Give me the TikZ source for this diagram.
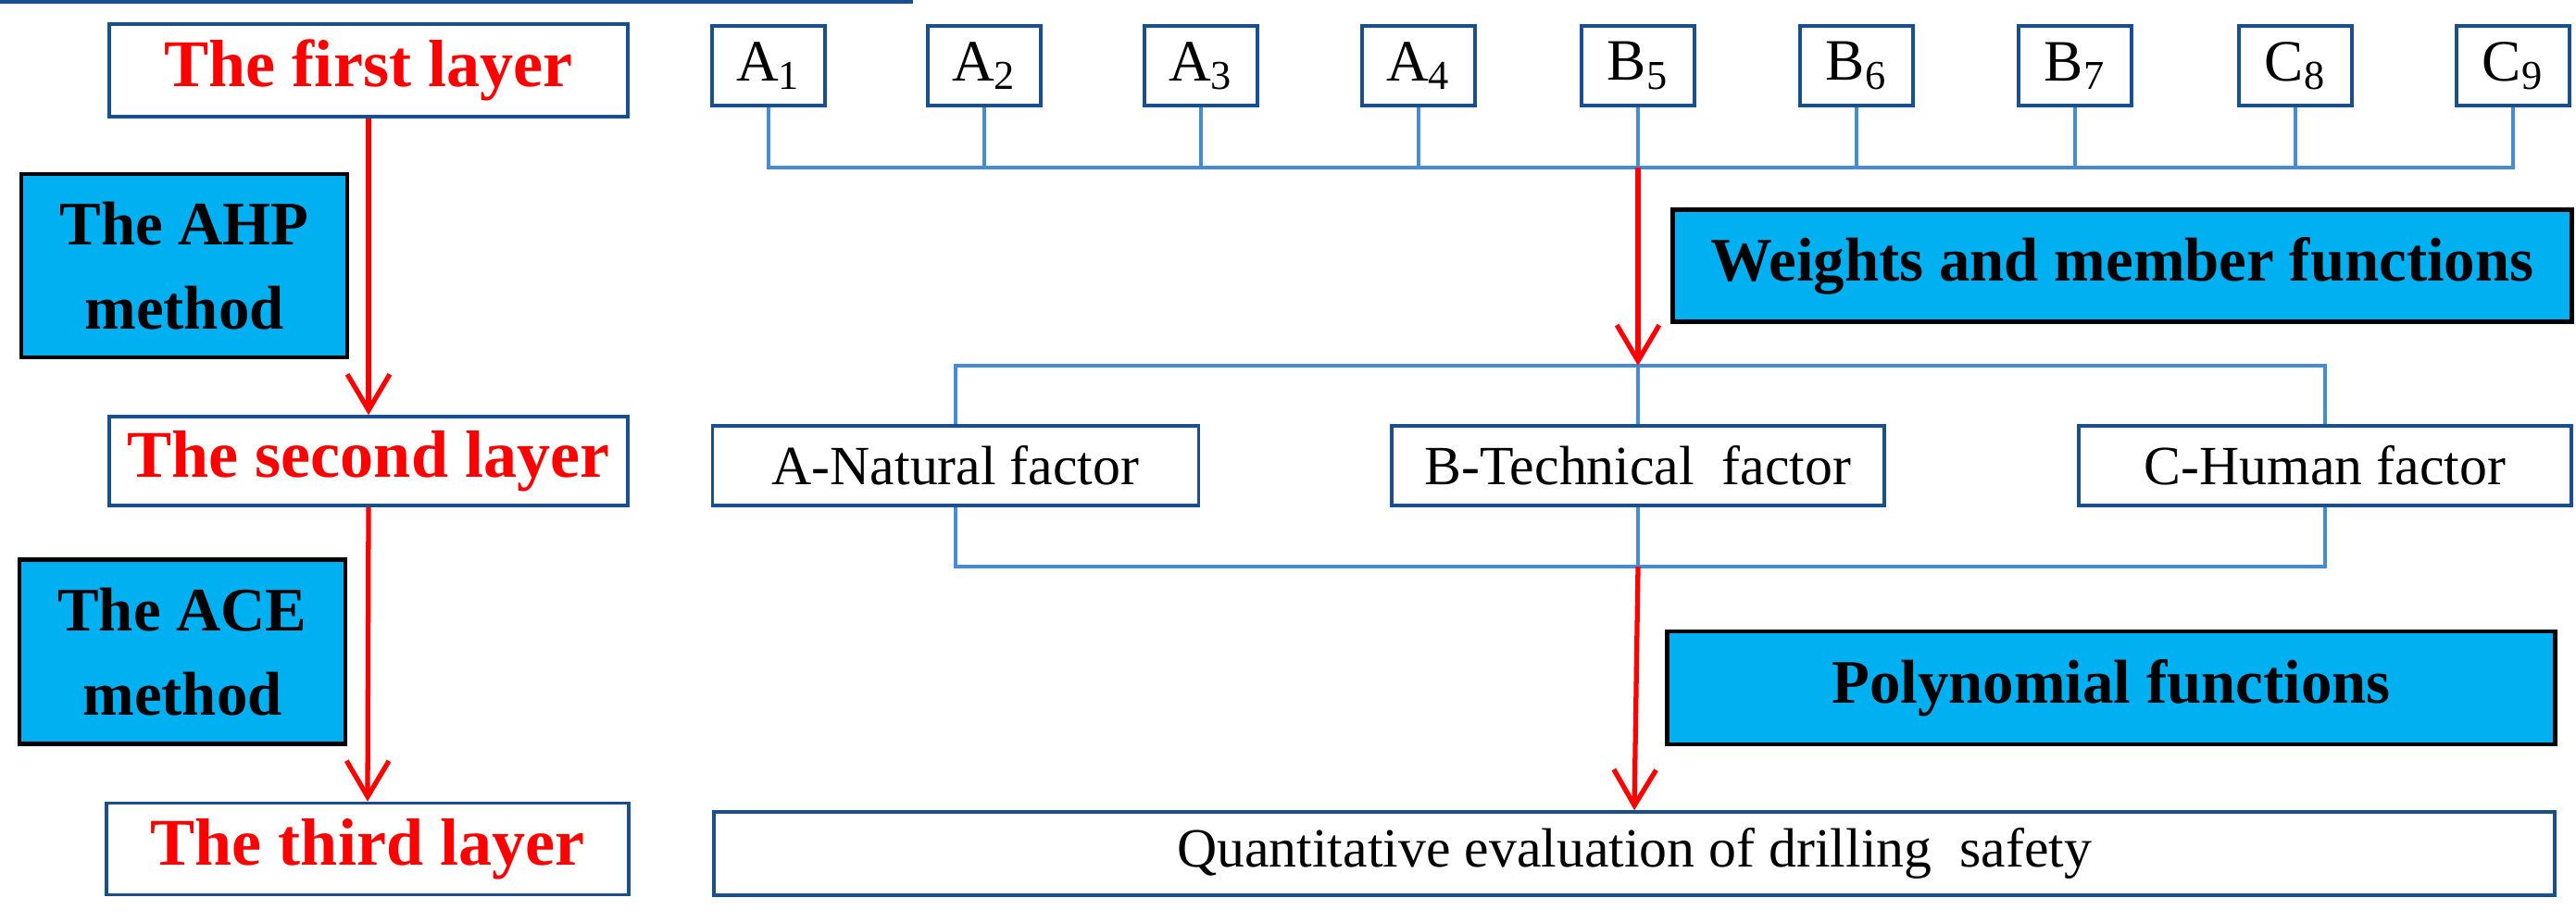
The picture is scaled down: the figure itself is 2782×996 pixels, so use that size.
\documentclass[tikz,border=0pt]{standalone}
\usepackage{fontspec}
\setmainfont{Liberation Serif}
\usetikzlibrary{arrows.meta}
\definecolor{bord}{RGB}{25,80,140}
\definecolor{conn}{RGB}{70,140,210}
\definecolor{cy}{RGB}{0,176,240}
\begin{document}
\begin{tikzpicture}[x=0.01cm,y=-0.01cm,
  box/.style={draw=bord,line width=1pt,fill=white,inner sep=0pt,align=center,font=\fontsize{17}{20}\selectfont},
  lay/.style={box,text=red,font=\fontsize{20.5}{24}\selectfont\bfseries},
  meth/.style={draw=black,line width=1.3pt,fill=cy,inner sep=0pt,align=center,font=\fontsize{19}{24}\selectfont\bfseries},
  sm/.style={box,minimum width=122\pgflinewidth,font=\fontsize{18}{20}\selectfont},
  bl/.style={draw=conn,line width=0.9pt},
  ar/.style={draw=red,line width=1.5pt,-{Straight Barb[length=11pt,width=13pt,line width=1.5pt]}}]
\useasboundingbox (0,0) rectangle (2782,996);
% layer boxes
\node[lay,minimum width=560\pgflinewidth] at (0,0) {};
\node[lay,minimum width=5.6cm,minimum height=1cm] (l1) at (398,76) {The first layer};
\node[lay,minimum width=5.6cm,minimum height=0.96cm] (l2) at (398,498) {The second layer};
\node[lay,minimum width=5.64cm,minimum height=0.99cm] (l3) at (397,917) {The third layer};
\node[meth,minimum width=3.52cm,minimum height=1.98cm] (ahp) at (199,287) {The AHP\\[2pt]method};
\node[meth,minimum width=3.52cm,minimum height=1.99cm] (ace) at (197,704) {The ACE\\[2pt]method};
\node[meth,minimum width=9.7cm,minimum height=1.21cm] (w) at (2292,287) {Weights and member functions};
\node[meth,minimum width=9.58cm,minimum height=1.22cm] (p) at (2280,743) {Polynomial functions};
\node[box,minimum width=19.87cm,minimum height=0.9cm] (q) at (1765,922) {Quantitative evaluation of drilling\ \ safety};
% factors
\node[box,minimum width=5.25cm,minimum height=0.86cm] (fa) at (1032,503) {A-Natural factor};
\node[box,minimum width=5.32cm,minimum height=0.86cm] (fb) at (1769,503) {B-Technical\ \ factor};
\node[box,minimum width=5.32cm,minimum height=0.86cm] (fc) at (2511,503) {C-Human factor};
% small boxes
\foreach \n/\l/\s/\x in {1/A/1/830,2/A/2/1063,3/A/3/1297,4/A/4/1532,5/B/5/1769,6/B/6/2005,7/B/7/2241,8/C/8/2479,9/C/9/2714}
  \node[box,minimum width=1.22cm,minimum height=0.86cm,font=\fontsize{18}{20}\selectfont] (s\n) at (\x,71) {\l\textsubscript{\s}};
% bus 1
\coordinate (b1l) at (830,181); \coordinate (b1r) at (2714,181); \coordinate (b1m) at (1769,181);
\draw[bl] (s1.south) -- (b1l) -- (b1r) -- (s9.south);
\foreach \n in {2,...,8} \draw[bl] (s\n.south) -- (s\n.south |- b1l);
% bus 2
\coordinate (b2l) at (1032,395); \coordinate (b2r) at (2511,395); \coordinate (b2m) at (1769,395);
\draw[bl] (fa.north) -- (b2l) -- (b2r) -- (fc.north);
\draw[bl] (fb.north) -- (b2m);
% bus 3
\coordinate (b3l) at (1032,612); \coordinate (b3r) at (2511,612); \coordinate (b3m) at (1769,612);
\draw[bl] (fa.south) -- (b3l) -- (b3r) -- (fc.south);
\draw[bl] (fb.south) -- (b3m);
% red arrows
\draw[ar] (l1.south) -- (l2.north);
\draw[ar] (l2.south) -- (l3.north);
\draw[ar] (b1m) -- (b2m);
\draw[ar] (b3m) -- (q.north);
\end{tikzpicture}
\end{document}
